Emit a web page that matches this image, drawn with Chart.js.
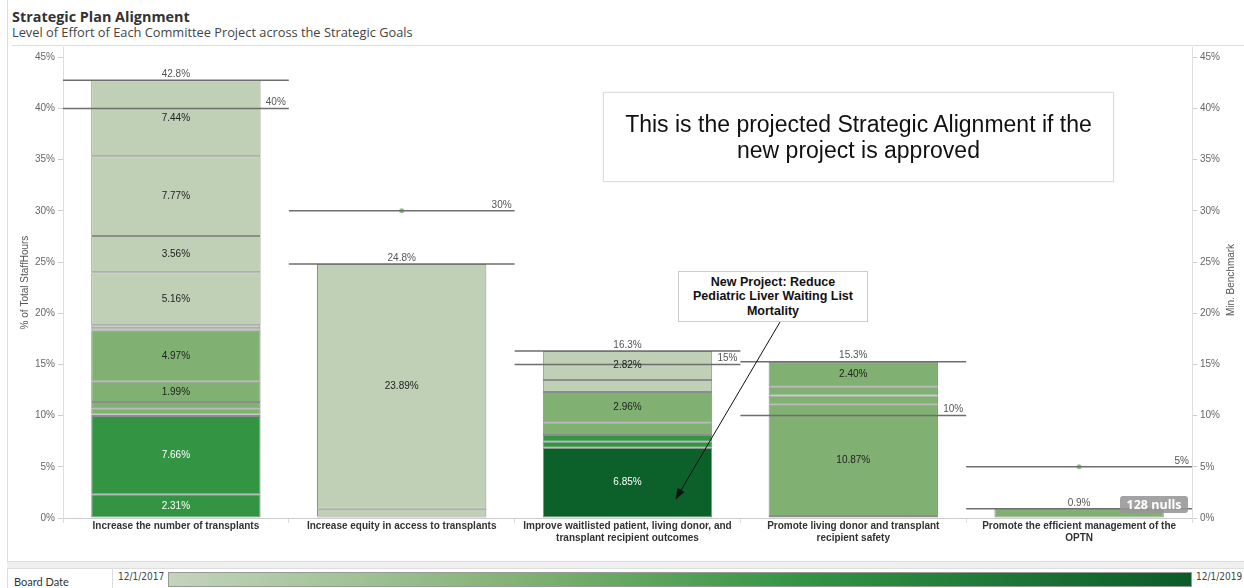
<!DOCTYPE html>
<html>
<head>
<meta charset="utf-8">
<script src="https://cdn.jsdelivr.net/npm/chart.js@4"></script>
<style>
  body { margin: 0; width: 1244px; height: 588px; position: relative; overflow: hidden; background: #fff; font-family: Arial, "Liberation Sans", sans-serif; }
  #title { position: absolute; left: 12px; top: 7px; font: bold 14.4px "Open Sans", Lato, sans-serif; color: #333; }
  #subtitle { position: absolute; left: 12px; top: 24px; font: 12.8px "Open Sans", Lato, sans-serif; color: #444; line-height: 16px; }
  #chartBox { position: absolute; left: 0; top: 38px; width: 1244px; height: 522px; }
  .frame-left { position: absolute; left: 7px; top: 0; width: 1px; height: 588px; background: #ddd; }
  .frame-top { position: absolute; left: 12px; top: 45px; width: 1232px; height: 1px; background: #ddd; }
  .band { position: absolute; left: 7px; top: 561px; width: 1237px; height: 6px; background: #f0f0f0; border-top: 1px solid #ddd; border-bottom: 1px solid #ddd; }
  .cell-sep { position: absolute; left: 112px; top: 568px; width: 1px; height: 20px; background: #ddd; }
  #boardDate { position: absolute; left: 14px; top: 575px; font: 11px Lato, sans-serif; color: #333; }
  .dateLbl { position: absolute; top: 571px; font: 10px "Liberation Sans Narrow", "DejaVu Sans Condensed", Arial, sans-serif; color: #444; }
  #legendBar { position: absolute; left: 168px; top: 572px; width: 1022px; height: 13px; border: 1px solid #999;
    background: linear-gradient(to right, #c3d4bc 0%, #80b172 35%, #339444 62%, #0b5c29 100%); }
  #note { position: absolute; left: 603px; top: 92px; width: 509px; height: 88px; border: 1px solid #ddd; box-shadow: 0 0 2px rgba(0,0,0,0.08);
    background: #fff; display: flex; align-items: center; justify-content: center; text-align: center;
    font: 23px Arial, "Liberation Sans", sans-serif; line-height: 26px; color: #111; }
  #newProj { position: absolute; left: 678px; top: 271px; width: 188px; height: 49px; border: 1px solid #ccc; background: #fff;
    display: flex; align-items: center; justify-content: center; text-align: center;
    font: bold 12.5px Arial, "Liberation Sans", sans-serif; line-height: 14.5px; color: #111; }
  #nulls { position: absolute; left: 1120px; top: 496px; width: 68px; height: 17px; border-radius: 3px; background: rgba(150,150,150,0.88);
    color: #fff; font: bold 12.5px "Open Sans", Lato, sans-serif; line-height: 17px; text-align: center; }
</style>
</head>
<body>
<div class="frame-left"></div>
<div class="frame-top"></div>
<div id="title">Strategic Plan Alignment</div>
<div id="subtitle">Level of Effort of Each Committee Project across the Strategic Goals</div>
<div id="chartBox"><canvas id="alignChart" width="1244" height="522"></canvas></div>
<div id="note">This is the projected Strategic Alignment if the<br>new project is approved</div>
<div id="newProj">New Project: Reduce<br>Pediatric Liver Waiting List<br>Mortality</div>
<div id="nulls">128 nulls</div>
<div class="band"></div>
<div class="cell-sep"></div>
<div id="boardDate">Board Date</div>
<div class="dateLbl" style="left:118px">12/1/2017</div>
<div id="legendBar"></div>
<div class="dateLbl" style="left:1196px">12/1/2019</div>

<script>
const goals = [
    "Increase the number of transplants",
    "Increase equity in access to transplants",
    ["Improve waitlisted patient, living donor, and", "transplant recipient outcomes"],
    ["Promote living donor and transplant", "recipient safety"],
    ["Promote the efficient management of the", "OPTN"]
];

// % of total staff hours per project, stacked bottom to top
const transplantsHours = [2.31, 7.66, 0.15, 0.6, 0.6, 1.99, 4.97, 0.25, 0.3, 5.16, 3.56, 7.77, 7.44];
const equityHours = [0.15, 0.76, 23.89];
const outcomesHours = [6.85, 0.6, 0.65, 1.24, 2.96, 1.18, 2.82];
const safetyHours = [0.2, 10.87, 0.9, 0.9, 2.40];
const optnHours = [0.9];

// board date bucket of each project (0 = 12/1/2017 ... 3 = 12/1/2019)
const transplantsDate = [2, 2, 1, 1, 1, 1, 1, 0, 0, 0, 0, 0, 0];
const equityDate = [0, 0, 0];
const outcomesDate = [3, 2, 2, 1, 1, 0, 0];
const safetyDate = [1, 1, 1, 1, 1];
const optnDate = [1];

const minBenchmark = [40, 30, 15, 10, 5];
const yTicksMax = 46;

const hoursByGoal = [transplantsHours, equityHours, outcomesHours, safetyHours, optnHours];
const dateByGoal = [transplantsDate, equityDate, outcomesDate, safetyDate, optnDate];
const dateShades = ["#bfd0b6", "#80b172", "#339444", "#0b6129"];

const totals = hoursByGoal.map(h => h.reduce((a, b) => a + b, 0));
const maxSegments = Math.max(...hoursByGoal.map(h => h.length));

const datasets = [];
for (let k = 0; k < maxSegments; k++) {
    datasets.push({
        type: "bar",
        data: hoursByGoal.map(h => h[k] !== undefined ? h[k] : null),
        backgroundColor: dateByGoal.map(d => d[k] !== undefined ? dateShades[d[k]] : "transparent"),
        shade: dateByGoal.map(d => d[k]),
        borderColor: "#8c8c8c",
        borderWidth: 1,
        borderSkipped: false,
        barPercentage: 0.75,
        categoryPercentage: 1,
        yAxisID: "y",
        stack: "hours",
        order: 1
    });
}
datasets.push({
    type: "line",
    data: minBenchmark,
    yAxisID: "y2",
    showLine: false,
    pointRadius: 2.5,
    pointBackgroundColor: "#92c083",
    pointBorderWidth: 0,
    order: 5
});

const fmtPct = v => v + "%";

// reference lines, labels, arrow
const overlayPlugin = {
    id: "overlay",
    afterDatasetsDraw(chart) {
        const ctx = chart.ctx;
        const x = chart.scales.x;
        const y = chart.scales.y;
        const y2 = chart.scales.y2;
        const cellW = x.getPixelForValue(1) - x.getPixelForValue(0);
        ctx.save();
        ctx.font = "10px Arial, 'Liberation Sans', sans-serif";
        ctx.lineWidth = 1.5;
        ctx.strokeStyle = "#6e6e6e";
        goals.forEach((g, i) => {
            const cx = x.getPixelForValue(i);
            const l = cx - cellW / 2, r = cx + cellW / 2;
            // total line
            const ty = y.getPixelForValue(totals[i]);
            ctx.beginPath(); ctx.moveTo(l, ty); ctx.lineTo(r, ty); ctx.stroke();
            ctx.fillStyle = "#555";
            ctx.textAlign = "center"; ctx.textBaseline = "bottom";
            ctx.fillText(totals[i].toFixed(1) + "%", cx, ty - 1);
            // benchmark line
            const by = y2.getPixelForValue(minBenchmark[i]);
            ctx.beginPath(); ctx.moveTo(l, by); ctx.lineTo(r, by); ctx.stroke();
            ctx.textAlign = "right";
            ctx.fillText(minBenchmark[i] + "%", r - 3, by - 1);
        });
        // segment labels
        ctx.textAlign = "center"; ctx.textBaseline = "middle";
        chart.data.datasets.forEach((ds, di) => {
            if (ds.type !== "bar") return;
            chart.getDatasetMeta(di).data.forEach((el, i) => {
                const v = ds.data[i];
                if (v === null || v < 1.9) return;
                ctx.fillStyle = ds.shade[i] >= 2 ? "#fff" : "#222";
                ctx.fillText(v.toFixed(2) + "%", el.x, (el.y + el.base) / 2);
            });
        });
        // arrow from new project note to the new segment
        const sx = 780, sy = 284;
        const tx = x.getPixelForValue(2) + 48, tyy = y.getPixelForValue(1.8);
        const ang = Math.atan2(tyy - sy, tx - sx);
        ctx.strokeStyle = "#111"; ctx.fillStyle = "#111"; ctx.lineWidth = 1;
        ctx.beginPath(); ctx.moveTo(sx, sy); ctx.lineTo(tx - 8 * Math.cos(ang), tyy - 8 * Math.sin(ang)); ctx.stroke();
        ctx.beginPath();
        ctx.moveTo(tx, tyy);
        ctx.lineTo(tx - 11 * Math.cos(ang) + 4 * Math.sin(ang), tyy - 11 * Math.sin(ang) - 4 * Math.cos(ang));
        ctx.lineTo(tx - 11 * Math.cos(ang) - 4 * Math.sin(ang), tyy - 11 * Math.sin(ang) + 4 * Math.cos(ang));
        ctx.closePath(); ctx.fill();
        // right axis title
        ctx.translate(1231, 242);
        ctx.rotate(-Math.PI / 2);
        ctx.fillStyle = "#555"; ctx.textAlign = "center"; ctx.textBaseline = "middle";
        ctx.fillText("Min. Benchmark", 0, 0);
        ctx.restore();
    }
};

const tickFont = { family: "Arial, 'Liberation Sans', sans-serif", size: 10 };

new Chart(document.getElementById("alignChart"), {
    data: { labels: goals, datasets: datasets },
    options: {
        responsive: false,
        animation: false,
        devicePixelRatio: 1,
        layout: { padding: { top: 4, left: 0, right: 0, bottom: 0 } },
        plugins: { legend: { display: false }, tooltip: { enabled: false } },
        scales: {
            x: {
                stacked: true,
                offset: true,
                grid: { offset: true, drawOnChartArea: false, tickLength: 5, color: "#ddd" },
                border: { color: "#ccc" },
                ticks: { color: "#333", font: { ...tickFont, weight: "bold" }, padding: -3, maxRotation: 0, autoSkip: false },
                afterFit: s => { s.height = 42; }
            },
            y: {
                stacked: true,
                min: 0, max: yTicksMax,
                grid: { drawOnChartArea: false, tickLength: 5, color: "#ccc" },
                border: { color: "#ddd" },
                ticks: { stepSize: 5, includeBounds: false, color: "#666", font: tickFont, padding: 3, callback: fmtPct },
                title: { display: true, text: "% of Total StaffHours", color: "#555", font: tickFont, padding: { top: 19, bottom: 0 } },
                afterFit: s => { s.width = 63; }
            },
            y2: {
                position: "right",
                min: 0, max: yTicksMax,
                grid: { drawOnChartArea: false, tickLength: 5, color: "#ccc" },
                border: { color: "#ddd" },
                ticks: { stepSize: 5, includeBounds: false, color: "#666", font: tickFont, padding: 3, callback: fmtPct },
                afterFit: s => { s.width = 52; }
            }
        }
    },
    plugins: [overlayPlugin]
});
</script>
</body>
</html>
